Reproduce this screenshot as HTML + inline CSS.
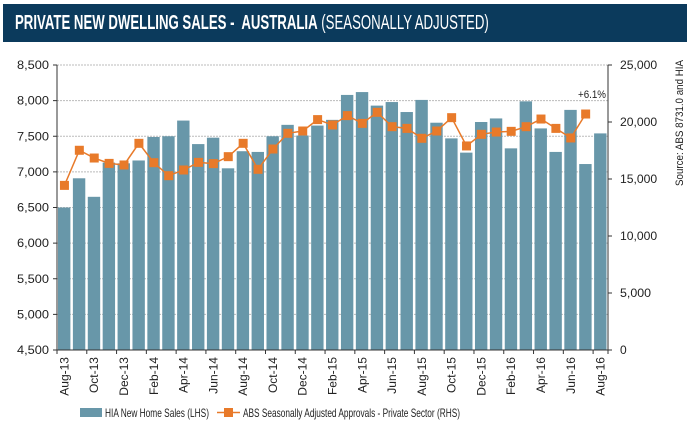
<!DOCTYPE html>
<html><head><meta charset="utf-8"><style>
body{margin:0;background:#fff;font-family:"Liberation Sans",sans-serif}
</style></head><body>
<div style="position:absolute;left:3px;top:4px;width:684px;height:38px;background:#0b3a5c;overflow:hidden">
<div style="position:absolute;left:12px;top:0;color:#fff;font-size:20px;line-height:38px;white-space:nowrap;transform:scaleX(0.66);transform-origin:0 50%"><b>PRIVATE NEW DWELLING SALES -&nbsp; AUSTRALIA</b> (SEASONALLY ADJUSTED)</div></div>
<svg id="c" width="690" height="426" style="position:absolute;left:0;top:0" font-family="Liberation Sans, sans-serif"></svg>
<script>
const months=["Aug-13","Sep-13","Oct-13","Nov-13","Dec-13","Jan-14","Feb-14","Mar-14","Apr-14","May-14","Jun-14","Jul-14","Aug-14","Sep-14","Oct-14","Nov-14","Dec-14","Jan-15","Feb-15","Mar-15","Apr-15","May-15","Jun-15","Jul-15","Aug-15","Sep-15","Oct-15","Nov-15","Dec-15","Jan-16","Feb-16","Mar-16","Apr-16","May-16","Jun-16","Jul-16","Aug-16"];
const hiaSales=[6500,6910,6650,7130,7120,7160,7490,7500,7720,7390,7480,7050,7290,7280,7500,7660,7510,7650,7730,8080,8120,7930,7980,7840,8010,7690,7470,7270,7700,7750,7330,7990,7610,7280,7870,7110,7540];
const absApprovals=[14440,17520,16840,16370,16230,18130,16430,15290,15790,16460,16350,16960,18130,15850,17630,19010,19210,20210,19740,20560,19880,20850,19590,19440,18570,19210,20380,17900,18920,19120,19180,19590,20260,19440,18600,20700];
const leftTicks=[4500,5000,5500,6000,6500,7000,7500,8000,8500];
const rightTicks=[0,5000,10000,15000,20000,25000];
const svg=document.getElementById('c');const NS='http://www.w3.org/2000/svg';
function mk(t,a,p){const e=document.createElementNS(NS,t);for(const k in a)e.setAttribute(k,a[k]);(p||svg).appendChild(e);return e;}
const X0=57,X1=608,Y0=350,Y1=65;
const bw=(X1-X0)/months.length;
const yL=v=>Y0-(v-4500)/4000*(Y0-Y1);
const yR=v=>Y0-v/25000*(Y0-Y1);
const xc=i=>X0+bw*(i+0.5);
leftTicks.forEach(t=>{
 if(t>4500){const g=mk('line',{x1:X0,x2:X1,y1:yL(t),y2:yL(t),stroke:'#bbb','stroke-dasharray':'2,1'});
 }
 const l=mk('text',{x:X0-8,y:yL(t)+4,'text-anchor':'end','font-size':12,fill:'#222',textLength:32,lengthAdjust:'spacingAndGlyphs'});l.textContent=t.toLocaleString('en-US');
 
});
rightTicks.forEach(t=>{
 const s=t.toLocaleString('en-US');
 const l=mk('text',{x:X1+12,y:yR(t)+4,'font-size':12,fill:'#222'});l.textContent=s;
 if(s.length>1){l.setAttribute('textLength',s.length*6.2);l.setAttribute('lengthAdjust','spacingAndGlyphs');}
 
 mk('line',{x1:X1,x2:X1+4,y1:yR(t),y2:yR(t),stroke:'#333'});
});
hiaSales.forEach((v,i)=>{
 const r=mk('rect',{x:X0+bw*i+1,y:yL(v),width:bw-2.5,height:Y0-yL(v),fill:'#6897a9'});
 
});
mk('line',{x1:X0,x2:X0,y1:Y1,y2:Y0,stroke:'#333'});
mk('line',{x1:X1,x2:X1,y1:Y1,y2:Y0,stroke:'#333'});
mk('line',{x1:X0,x2:X1,y1:Y0,y2:Y0,stroke:'#333'});
leftTicks.forEach(t=>mk('line',{x1:X0-4,x2:X0,y1:yL(t),y2:yL(t),stroke:'#333'}));
months.forEach((m,i)=>{
 if(i%2==0){
  mk('line',{x1:X0+bw*i,x2:X0+bw*i,y1:Y0,y2:Y0+4,stroke:'#333'});
  const x=xc(i)+4,y=Y0+7;
  const l=mk('text',{x:x,y:y,'text-anchor':'end','font-size':12,fill:'#222',transform:`rotate(-90 ${x} ${y})`});l.textContent=m;
  
 }
});
mk('line',{x1:X1,x2:X1,y1:Y0,y2:Y0+4,stroke:'#333'});
const pts=absApprovals.map((v,i)=>xc(i)+','+yR(v)).join(' ');
const pl=mk('polyline',{points:pts,fill:'none',stroke:'#e87a2a','stroke-width':1.5});

absApprovals.forEach((v,i)=>{
 const r=mk('rect',{x:xc(i)-4.5,y:yR(v)-4.5,width:9,height:9,fill:'#e87a2a'});
 
});
const an=mk('text',{x:606,y:98,'text-anchor':'end','font-size':11,fill:'#222',textLength:28,lengthAdjust:'spacingAndGlyphs'});an.textContent='+6.1%';

const src=mk('text',{x:0,y:0,'font-size':11,fill:'#222','text-anchor':'middle',textLength:126,lengthAdjust:'spacingAndGlyphs',transform:'translate(683 123) rotate(-90)'});src.textContent='Source: ABS 8731.0 and HIA';

const lg=mk('g',{});
mk('rect',{x:80,y:408,width:22,height:9,fill:'#6897a9'},lg);
const t1=mk('text',{x:105,y:417,'font-size':12,fill:'#222',textLength:104,lengthAdjust:'spacingAndGlyphs'},lg);t1.textContent='HIA New Home Sales (LHS)';

mk('line',{x1:217,x2:240,y1:412.5,y2:412.5,stroke:'#e87a2a','stroke-width':1.5},lg);
mk('rect',{x:224,y:408,width:9,height:9,fill:'#e87a2a'},lg);
const t2=mk('text',{x:243,y:417,'font-size':12,fill:'#222',textLength:217,lengthAdjust:'spacingAndGlyphs'},lg);t2.textContent='ABS Seasonally Adjusted Approvals - Private Sector (RHS)';

</script>
</body></html>
